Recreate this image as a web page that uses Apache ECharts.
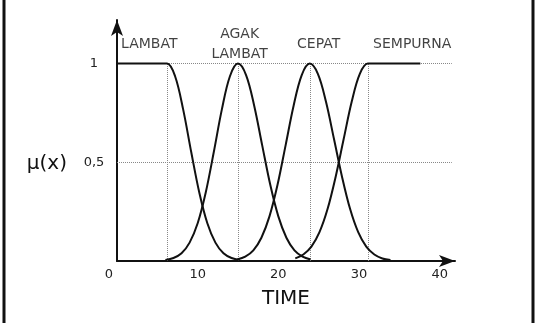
<!DOCTYPE html>
<html>
<head>
<meta charset="utf-8">
<script src="https://cdn.jsdelivr.net/npm/echarts@6/dist/echarts.min.js"></script>
<style>
html,body{margin:0;padding:0;background:#fff;}
#c{width:537px;height:328px;}
</style>
</head>
<body>
<div id="c"></div>
<script>
// ---- data ----
var lambatT    = [0, 1, 2, 3, 4, 5, 6.2, 7.2, 8.2, 9.2, 10.2, 11.2, 12.2, 13.2, 14.2, 15.2];
var lambatMu   = [1, 1, 1, 1, 1, 1, 1, 0.936, 0.768, 0.552, 0.347, 0.191, 0.093, 0.039, 0.015, 0.005];

var agakT      = [6, 7, 8, 9, 10, 11, 12, 13, 14, 15, 16, 17, 18, 19, 20, 21, 22, 23, 24];
var agakMu     = [0.005, 0.015, 0.039, 0.093, 0.191, 0.347, 0.552, 0.768, 0.936, 1, 0.942, 0.788, 0.586, 0.386, 0.226, 0.118, 0.054, 0.022, 0.008];

var cepatT     = [14.9, 15.9, 16.9, 17.9, 18.9, 19.9, 20.9, 21.9, 22.9, 23.9, 24.9, 25.9, 26.9, 27.9, 28.9, 29.9, 30.9, 31.9, 32.9, 33.9];
var cepatMu    = [0.008, 0.022, 0.054, 0.118, 0.226, 0.386, 0.586, 0.788, 0.942, 1, 0.948, 0.808, 0.618, 0.426, 0.263, 0.146, 0.073, 0.033, 0.013, 0.005];

var sempurnaT  = [22.1, 23.1, 24.1, 25.1, 26.1, 27.1, 28.1, 29.1, 30.1, 31.1, 32.1, 33.1, 34.1, 35.1, 36.1, 37.6];
var sempurnaMu = [0.013, 0.033, 0.073, 0.146, 0.263, 0.426, 0.618, 0.808, 0.948, 1, 1, 1, 1, 1, 1, 1];

var setNames   = ['LAMBAT', 'AGAK\nLAMBAT', 'CEPAT', 'SEMPURNA'];
var setLabelT  = [4.0, 15.2, 25.0, 36.6];
var setLabelMu = [1.10, 1.10, 1.10, 1.10];

var refLevels  = [0.5, 1];               // dotted horizontal guides
var refTimes   = [6.2, 15, 23.9, 31.1];  // dotted vertical guides
var guideEnd   = 41.5;

var xTickLabels = {0: '0', 10: '10', 20: '20', 30: '30', 40: '40'};
var yTickLabels = {0.5: '0,5', 1: '1'};

// ---- build ----
function pairs(xs, ys) { return xs.map(function (x, i) { return [x, ys[i]]; }); }

var FONT = 'DejaVu Sans';
var INK = '#111';
var curveStyle = { color: INK, width: 2 };

var guides = [];
refLevels.forEach(function (l) { guides.push([{ coord: [0, l] }, { coord: [guideEnd, l] }]); });
refTimes.forEach(function (t) { guides.push([{ coord: [t, 0] }, { coord: [t, 1] }]); });

function curve(name, xs, ys, extra) {
  var s = {
    name: name, type: 'line', smooth: 0.35, showSymbol: false, symbol: 'none',
    data: pairs(xs, ys), lineStyle: curveStyle, itemStyle: { color: INK },
    silent: true, z: 3
  };
  if (extra) for (var k in extra) s[k] = extra[k];
  return s;
}

var option = {
  animation: false,
  backgroundColor: '#fff',
  grid: { left: 117, right: 82, top: 20, bottom: 67, containLabel: false },
  xAxis: {
    type: 'value', min: 0, max: 41.9, interval: 10,
    name: 'TIME', nameLocation: 'middle', nameGap: 28,
    nameTextStyle: { fontFamily: FONT, fontSize: 20, color: '#111' },
    axisLine: { show: true, symbol: ['none', 'arrow'], symbolSize: [9, 16], lineStyle: { color: INK, width: 2 } },
    axisTick: { show: false },
    splitLine: { show: false },
    axisLabel: {
      margin: 7, fontFamily: FONT, fontSize: 13, color: '#222',
      formatter: function (v) {
        var t = xTickLabels[v];
        if (t === undefined) return '';
        return v === 0 ? '{z|' + t + '}' : t;
      },
      rich: { z: { fontFamily: FONT, fontSize: 13, color: '#222', padding: [0, 16, 0, 0] } }
    }
  },
  yAxis: {
    type: 'value', min: 0, max: 1.221, interval: 0.5,
    name: '{m|μ(x)}', nameLocation: 'middle', nameRotate: 0, nameGap: 50,
    nameTextStyle: {
      fontFamily: FONT, fontSize: 20, color: '#111',
      rich: { m: { fontFamily: FONT, fontSize: 20, color: '#111', padding: [46, 0, 0, 0] } }
    },
    axisLine: { show: true, symbol: ['none', 'arrow'], symbolSize: [9, 16], lineStyle: { color: INK, width: 2 } },
    axisTick: { show: false },
    splitLine: { show: false },
    axisLabel: {
      margin: 23, align: 'center', fontFamily: FONT, fontSize: 13, color: '#222',
      formatter: function (v) { var t = yTickLabels[v]; return t === undefined ? '' : t; }
    }
  },
  series: [
    curve('LAMBAT', lambatT, lambatMu, {
      markLine: {
        silent: true, symbol: ['none', 'none'], label: { show: false },
        lineStyle: { type: 'dotted', color: '#888', width: 1 },
        data: guides, z: 1
      }
    }),
    curve('AGAK LAMBAT', agakT, agakMu),
    curve('CEPAT', cepatT, cepatMu),
    curve('SEMPURNA', sempurnaT, sempurnaMu),
    {
      type: 'scatter', symbolSize: 1, itemStyle: { color: 'rgba(0,0,0,0)' }, silent: true,
      data: setNames.map(function (n, i) { return { name: n, value: [setLabelT[i], setLabelMu[i]] }; }),
      label: {
        show: true, position: 'inside', formatter: '{b}',
        fontFamily: FONT, fontSize: 14, lineHeight: 20, color: '#111'
      }
    }
  ],
  graphic: [
    { type: 'line', shape: { x1: 4, y1: 0, x2: 4, y2: 323 }, style: { stroke: INK, lineWidth: 3 } },
    { type: 'line', shape: { x1: 533, y1: 0, x2: 533, y2: 323 }, style: { stroke: INK, lineWidth: 3 } }
  ]
};

var chart = echarts.init(document.getElementById('c'), null, { renderer: 'canvas' });
chart.setOption(option);
</script>
</body>
</html>
